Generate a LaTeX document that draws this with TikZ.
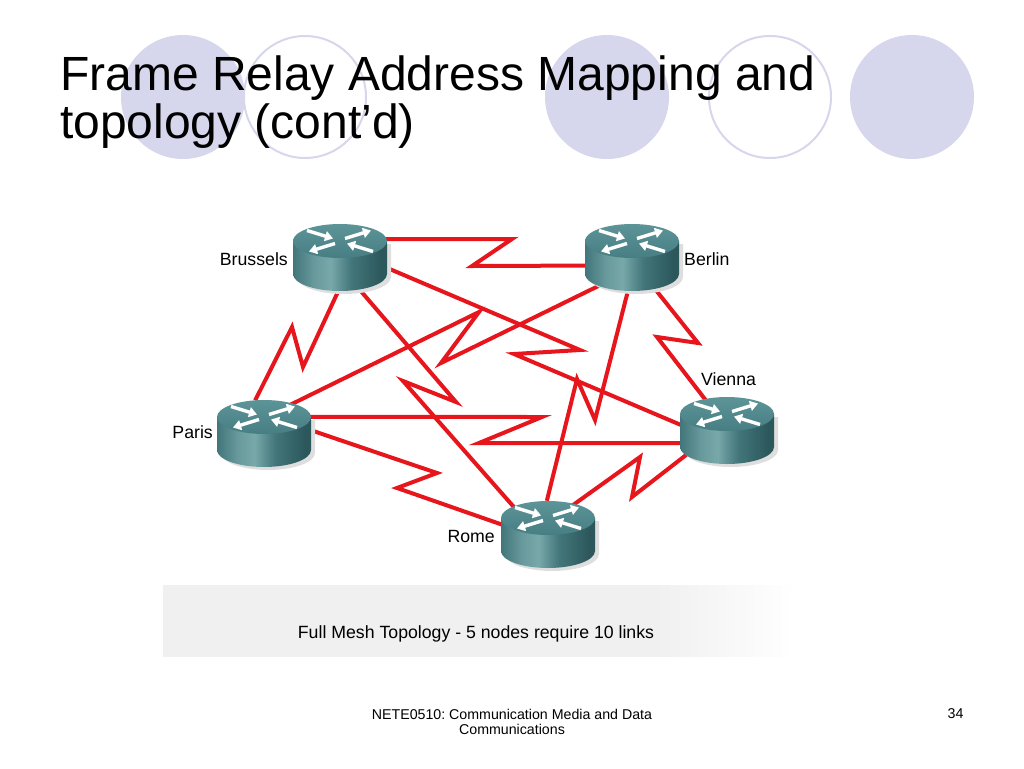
\documentclass[tikz,border=0pt]{standalone}
\usepackage{fontspec}
\setmainfont{Liberation Sans}
\usetikzlibrary{shapes.geometric, arrows.meta}
\frenchspacing

\definecolor{lav}{RGB}{214,214,236}
\definecolor{linkred}{RGB}{230,22,28}
\definecolor{rdark}{RGB}{44,88,92}
\definecolor{rmid}{RGB}{66,118,122}
\definecolor{rlight}{RGB}{120,168,170}
\definecolor{rtopa}{RGB}{92,148,152}
\definecolor{rtopb}{RGB}{70,126,131}
\definecolor{bandgrey}{RGB}{240,240,240}

\pgfdeclarehorizontalshading{routerbody}{100bp}{color(0bp)=(rmid); color(25bp)=(rmid); color(36bp)=(rlight!70!rmid); color(45bp)=(rlight); color(56bp)=(rmid); color(72bp)=(rdark); color(75bp)=(rdark); color(100bp)=(rdark)}
\pgfdeclarehorizontalshading{band}{100bp}{color(0bp)=(bandgrey); color(25bp)=(bandgrey); color(64bp)=(bandgrey); color(75bp)=(white); color(100bp)=(white)}

\begin{document}
\begin{tikzpicture}
  [x=1pt, y=-1pt,
   router/.style={ellipse, minimum width=94pt, minimum height=67pt, inner sep=0pt},
   link/.style={linkred, line width=4pt},
   city/.style={font=\fontsize{17.7}{20}\selectfont, inner sep=0pt},
   flow/.style={white, line width=3.4pt, -{Triangle[length=8pt, width=10pt]}},
   title/.style={font=\fontsize{48}{48}\selectfont, inner sep=0pt, anchor=base west},
   foot/.style={font=\fontsize{14.2}{15.5}\selectfont, inner sep=0pt}]
  \useasboundingbox (0,0) rectangle (1024,768);
  % slide decoration
  \foreach \x in {183, 607, 912}
    \fill[lav] (\x,97) circle (62);
  \foreach \x in {305, 770}
    \draw[lav, line width=2pt] (\x,97) circle (61);
  \node[title] (title1) at (60,90) {Frame Relay Address Mapping and};
  \node[title] (title2) at (60,138) {topology (cont’d)};

  % routers
  \node[router] (brussels) at (340,257.5) {};
  \node[router] (berlin) at (632,257.5) {};
  \node[router] (paris) at (264,433.5) {};
  \node[router] (vienna) at (727,430.5) {};
  \node[router] (rome) at (548,534.5) {};

  % full mesh of serial links
  \draw[link] (brussels.25) -- (512,239) -- (472,266) -- (berlin.190);
  \draw[link] (brussels.-12) -- (580,350) -- (514,354) -- (vienna.173);
  \draw[link] (brussels.-59) -- (456,402) -- (403,381) -- (rome.142);
  \draw[link] (brussels.-93) -- (303,367) -- (292,327) -- (paris.105);
  \draw[link] (berlin.-138) -- (441,363) -- (479,312) -- (paris.48);
  \draw[link] (berlin.-97) -- (595,420) -- (577,379) -- (rome.92);
  \draw[link] (berlin.-54) -- (698,343) -- (657,337) -- (vienna.125);
  \draw[link] (paris.22) -- (542,417) -- (479,443) -- (vienna.196);
  \draw[link] (paris.4) -- (437,473) -- (397,488) -- (rome.168);
  \draw[link] (rome.50) -- (640,457) -- (632,497) -- (vienna.-150);

  % router icons
  \foreach \r in {brussels, berlin, paris, vienna, rome} {
    \begin{scope}[shift={(\r.center)}]
      \fill[black!13] (-43,-13.5) -- (-43,19.5) arc[start angle=180, end angle=0, x radius=47, y radius=17] -- (51,-13.5) -- cycle;
      \shade[shading=routerbody] (-47,-16.5) -- (-47,16.5) arc[start angle=180, end angle=0, x radius=47, y radius=17] -- (47,-16.5) -- cycle;
      \shade[top color=rtopa, bottom color=rtopb] (0,-16.5) ellipse [x radius=47, y radius=17];
      \draw[flow] (-33,-27) -- (-7,-19);
      \draw[flow] (33,-6) -- (7,-14);
      \draw[flow] (5,-19) -- (31,-27);
      \draw[flow] (-5,-14) -- (-31,-6);
    \end{scope}
  }

  \node[city, anchor=base east] (brusselsname) at (288,265) {Brussels};
  \node[city, anchor=base west] (berlinname) at (684,265) {Berlin};
  \node[city, anchor=base east] (parisname) at (213,438) {Paris};
  \node[city, anchor=base west] (viennaname) at (701,385) {Vienna};
  \node[city, anchor=base east] (romename) at (495,542) {Rome};

  % caption band
  \shade[shading=band] (163,585) rectangle (795,656);
  \node[city, anchor=base] (caption) at (476,638) {Full Mesh Topology - 5 nodes require 10 links};

  % footer
  \node[foot, anchor=base] (course) at (512,719) {NETE0510: Communication Media and Data};
  \node[foot, anchor=base] (course2) at (512,734) {Communications};
  \node[foot, anchor=base west] (pagenum) at (947.5,718) {34};
\end{tikzpicture}
\end{document}
